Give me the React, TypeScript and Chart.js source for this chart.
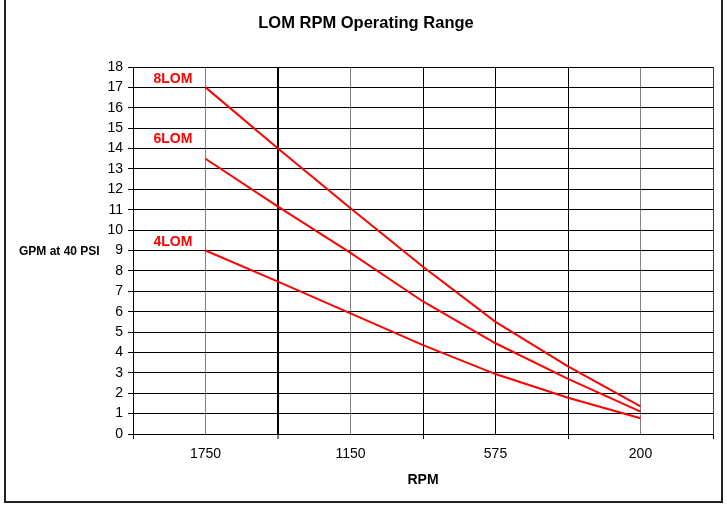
import React, { useEffect, useRef } from "react";
import { Chart, registerables } from "chart.js";

Chart.register(...registerables);

// ---- data ----
const rpmLabels = ["1750", "1150", "575", "200"];
const rpmLabelPositions = [1, 3, 5, 7];
const xPositions = [1, 2, 3, 4, 5, 6, 7];
const seriesNames = ["8LOM", "6LOM", "4LOM"];
const lom8 = [17.0, 14.0, 11.07, 8.2, 5.5, 3.32, 1.35];
const lom6 = [13.5, 11.15, 8.88, 6.5, 4.45, 2.7, 1.1];
const lom4 = [9.0, 7.47, 5.92, 4.36, 2.94, 1.78, 0.77];
const seriesLabelY = [17.4, 14.47, 9.42];
const yTicksMax = 18;

const FONT = "'Liberation Sans', Arial, sans-serif";

const textPlugin = {
  id: "textPlugin",
  afterDraw(chart: any) {
    const ctx = chart.ctx as CanvasRenderingContext2D;
    const xs = chart.scales.x;
    const ys = chart.scales.y;
    const area = chart.chartArea;
    ctx.save();
    // outer frame
    ctx.strokeStyle = "#222";
    ctx.lineWidth = 2;
    ctx.beginPath();
    ctx.moveTo(5, 0);
    ctx.lineTo(5, 502);
    ctx.lineTo(722, 502);
    ctx.lineTo(722, 0);
    ctx.stroke();

    // title
    ctx.fillStyle = "#000";
    ctx.textAlign = "center";
    ctx.textBaseline = "middle";
    ctx.font = `bold 16.5px ${FONT}`;
    ctx.fillText("LOM RPM Operating Range", 366, 23);

    // x title
    ctx.font = `bold 14px ${FONT}`;
    ctx.fillText("RPM", (area.left + area.right) / 2, 480);

    // y title
    ctx.font = `bold 12px ${FONT}`;
    ctx.textAlign = "left";
    ctx.fillText("GPM at 40 PSI", 19, 252);

    // series labels
    ctx.font = `bold 14px ${FONT}`;
    ctx.textAlign = "center";
    ctx.fillStyle = "#ff0000";
    seriesNames.forEach((name, i) => {
      ctx.fillText(name, xs.getPixelForValue(0.55), ys.getPixelForValue(seriesLabelY[i]));
    });
    ctx.restore();
  },
};

const vGridColor = (v: number) => {
  if (v === 1 || v === 3 || v === 7) return "#808080";
  if (v === 8) return "#404040";
  return "#000000";
};

export default function App() {
  const ref = useRef<HTMLCanvasElement | null>(null);
  useEffect(() => {
    document.body.style.margin = "0";
    if (!ref.current) return;
    const mk = (data: number[]) => xPositions.map((x, i) => ({ x, y: data[i] }));
    const chart = new Chart(ref.current, {
      type: "line",
      data: {
        datasets: [lom8, lom6, lom4].map((d, i) => ({
          label: seriesNames[i],
          data: mk(d),
          borderColor: "#ff0000",
          borderWidth: 2,
          pointRadius: 0,
          tension: 0,
          fill: false,
        })),
      },
      options: {
        animation: false,
        responsive: false,
        devicePixelRatio: 1,
        layout: { padding: { top: 67, right: 14, left: 0, bottom: 0 } },
        plugins: { legend: { display: false }, tooltip: { enabled: false }, title: { display: false } },
        scales: {
          x: {
            type: "linear",
            min: 0,
            max: 8,
            afterFit: (s: any) => {
              s.height = 74;
            },
            afterBuildTicks: (s: any) => {
              s.ticks = [0, 1, 2, 3, 4, 5, 6, 7, 8].map((v) => ({ value: v }));
            },
            ticks: {
              autoSkip: false,
              maxRotation: 0,
              padding: 7,
              color: "#000",
              font: { family: FONT, size: 14 },
              callback: (v: any) => {
                const idx = rpmLabelPositions.indexOf(Number(v));
                return idx >= 0 ? rpmLabels[idx] : "";
              },
            },
            grid: {
              color: (c: any) => vGridColor(c.tick ? c.tick.value : 0),
              lineWidth: (c: any) => (c.tick && c.tick.value === 2 ? 2 : 1),
              tickLength: 5,
              tickColor: (c: any) => (c.tick && c.tick.value % 2 === 0 ? "#000" : "rgba(0,0,0,0)"),
              tickWidth: 1,
            },
            border: { display: true, color: "#000", width: 1 },
          },
          y: {
            type: "linear",
            min: 0,
            max: yTicksMax,
            afterFit: (s: any) => {
              s.width = 133;
            },
            ticks: {
              stepSize: 1,
              padding: 5,
              color: "#000",
              font: { family: FONT, size: 14 },
            },
            grid: {
              color: "#000",
              lineWidth: 1,
              tickLength: 5,
              tickColor: "#000",
            },
            border: { display: true, color: "#000", width: 1 },
          },
        },
      },
      plugins: [textPlugin],
    } as any);
    return () => chart.destroy();
  }, []);
  return (
    <div style={{ width: 727, height: 508 }}>
      <canvas ref={ref} width={727} height={508} style={{ display: "block", width: 727, height: 508 }} />
    </div>
  );
}
